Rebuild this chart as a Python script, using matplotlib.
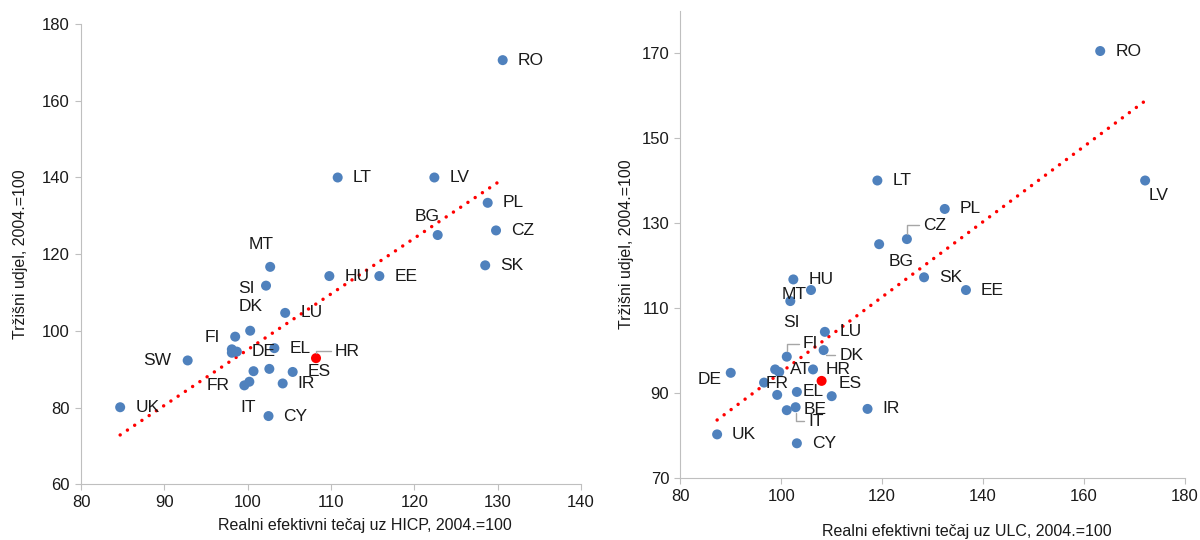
import numpy as np
import matplotlib
matplotlib.use('Agg')
import matplotlib.pyplot as plt

plt.rcParams['font.family'] = ['Liberation Sans', 'DejaVu Sans']

# left panel: REER deflated by HICP vs market share
hicp_names = ['RO', 'LV', 'LT', 'PL', 'CZ', 'BG', 'SK', 'MT', 'HU', 'EE', 'SI', 'LU', 'DK', 'FI',
              'EL', 'DE', '', '', 'HR', 'SW', '', '', 'ES', 'IR', 'FR', 'IT', 'CY', 'UK']
hicp_x = [130.6, 122.4, 110.8, 128.8, 129.8, 122.8, 128.5, 102.7, 109.8, 115.8, 102.2, 104.5, 100.3, 98.5,
          103.2, 98.7, 98.1, 98.1, 108.2, 92.8, 100.7, 102.6, 105.4, 104.2, 99.6, 100.2, 102.5, 84.7]
hicp_y = [170.6, 140.0, 140.0, 133.4, 126.2, 125.0, 117.1, 116.7, 114.3, 114.3, 111.8, 104.7, 100.05, 98.5,
          95.5, 94.6, 95.2, 94.3, 92.9, 92.3, 89.5, 90.1, 89.3, 86.3, 85.8, 86.75, 77.8, 80.1]

# right panel: REER deflated by ULC vs market share
ulc_names = ['RO', 'LV', 'LT', 'PL', 'CZ', 'BG', 'SK', 'EE', 'HU', 'MT', 'SI', 'LU', 'DK', 'FI',
             'DE', 'AT', '', '', 'HR', 'FR', '', 'EL', 'ES', 'BE', 'IT', 'IR', 'UK', 'CY']
ulc_x = [163.2, 172.1, 119.05, 132.4, 124.9, 119.4, 128.3, 136.6, 102.4, 105.9, 101.8, 108.65, 108.4, 101.1,
         90.0, 98.8, 99.6, 106.3, 108.0, 96.6, 99.2, 103.1, 110.0, 101.1, 102.85, 117.1, 87.3, 103.1]
ulc_y = [170.5, 140.0, 140.0, 133.3, 126.2, 125.0, 117.2, 114.2, 116.7, 114.2, 111.6, 104.35, 100.05, 98.5,
         94.7, 95.5, 94.9, 95.5, 92.8, 92.4, 89.5, 90.2, 89.2, 85.9, 86.6, 86.2, 80.2, 78.1]

# label placement in pixels: (dx, dy down, ha, leader)
hicp_lab = {'BG': (-11, -19, 'center', False), 'MT': (-9, -22, 'center', False),
            'SI': (-11, 3, 'right', False), 'DK': (0, -24, 'center', False),
            'FI': (-15, 1, 'right', False), 'SW': (-16, 0, 'right', False),
            'FR': (-15, 0, 'right', False), 'IT': (-1, 26, 'center', False),
            'HR': (19, -7, 'left', True)}
ulc_lab = {'LV': (3, 15, 'left', False), 'CZ': (16, -14, 'left', True),
           'BG': (9, 17, 'left', False), 'MT': (-4, 4, 'right', False),
           'SI': (1, 21, 'center', False), 'FI': (16, -13, 'left', True),
           'DK': (16, 5, 'left', True), 'DE': (-9, 7, 'right', False),
           'HR': (4, -11, 'left', False), 'FR': (2, 1, 'left', False),
           'EL': (6, 0, 'left', False), 'ES': (7, -13, 'left', False),
           'BE': (17, -1, 'left', False), 'IT': (13, 14, 'left', True)}

blue = '#4F81BD'
red = '#FF0000'
spine_c = '#BFBFBF'
txt_c = '#1a1a1a'

fig = plt.figure(figsize=(12, 5.4), dpi=100)
ax1 = fig.add_axes([0.0675, 0.1031, 0.4167, 0.8523])
ax2 = fig.add_axes([0.5669, 0.1154, 0.4206, 0.8648])


def draw(ax, names, xs, ys, labs):
    xs = np.array(xs)
    ys = np.array(ys)
    # linear trend through all countries
    k, b = np.polyfit(xs, ys, 1)
    tx = np.array([xs.min(), xs.max()])
    ax.plot(tx, k * tx + b, color=red, lw=2.5, ls=(0, (0.01, 2.5)),
            dash_capstyle='round', zorder=2)
    cols = [red if n == 'HR' else blue for n in names]
    ax.scatter(xs, ys, s=52, c=cols, zorder=3, linewidths=0)
    for n, x, y in zip(names, xs, ys):
        if not n:
            continue
        dx, dy, ha, lead = labs.get(n, (15, 0, 'left', False))
        kw = {}
        if lead:
            kw['arrowprops'] = dict(arrowstyle='-', color='#A6A6A6', lw=1,
                                    shrinkA=1, shrinkB=4,
                                    connectionstyle='angle,angleA=0,angleB=90,rad=0')
        ax.annotate(n, (x, y), xytext=(dx, -dy), textcoords='offset pixels',
                    ha=ha, va='center', fontsize=12.5, color=txt_c, zorder=4, **kw)
    for s in ['top', 'right']:
        ax.spines[s].set_visible(False)
    for s in ['left', 'bottom']:
        ax.spines[s].set_color(spine_c)
    ax.tick_params(direction='out', length=4, color=spine_c, labelsize=12,
                   labelcolor=txt_c, pad=4)


draw(ax1, hicp_names, hicp_x, hicp_y, hicp_lab)
ax1.set_xlim(80, 140)
ax1.set_ylim(60, 180)
ax1.set_xticks(range(80, 141, 10))
ax1.set_yticks(range(60, 181, 20))
ax1.set_xlabel('Realni efektivni tečaj uz HICP, 2004.=100', fontsize=11.5, color=txt_c, va='center')
ax1.set_ylabel('Tržišni udjel, 2004.=100', fontsize=11.5, color=txt_c, va='center')
ax1.xaxis.set_label_coords(0.568, -0.089)
ax1.yaxis.set_label_coords(-0.12, 0.5)

draw(ax2, ulc_names, ulc_x, ulc_y, ulc_lab)
ax2.set_xlim(80, 180)
ax2.set_ylim(70, 180)
ax2.set_xticks(range(80, 181, 20))
ax2.set_yticks(range(70, 171, 20))
ax2.set_xlabel('Realni efektivni tečaj uz ULC, 2004.=100', fontsize=11.5, color=txt_c, va='center')
ax2.set_ylabel('Tržišni udjel, 2004.=100', fontsize=11.5, color=txt_c, va='center')
ax2.xaxis.set_label_coords(0.568, -0.116)
ax2.yaxis.set_label_coords(-0.107, 0.5)

fig.savefig('out.png', dpi=100)
